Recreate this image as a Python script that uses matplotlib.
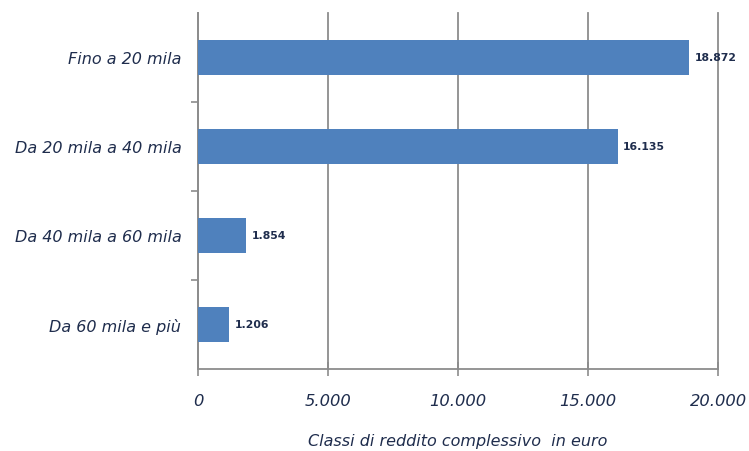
import matplotlib
matplotlib.use("Agg")
import matplotlib.pyplot as plt
from matplotlib.ticker import FixedLocator

categories = ["Fino a 20 mila", "Da 20 mila a 40 mila", "Da 40 mila a 60 mila", "Da 60 mila e più"]
values = [18872, 16135, 1854, 1206]
value_labels = ["18.872", "16.135", "1.854", "1.206"]
xticks = [0, 5000, 10000, 15000, 20000]
xtick_labels = ["0", "5.000", "10.000", "15.000", "20.000"]
xlabel = "Classi di reddito complessivo  in euro"

txt_color = "#1F2D4D"
grid_color = "#8C8C8C"
fam = "DejaVu Sans"

fig = plt.figure(figsize=(7.49, 4.52), dpi=100)
ax = fig.add_axes([198/749, 1-370/452, (718-198)/749, (370-14)/452])

n = len(categories)
ypos = list(range(n))[::-1]  # top category at highest y
ax.barh(ypos, values, height=0.4, color="#4F81BD", zorder=3)
for y, v, lab in zip(ypos, values, value_labels):
    ax.text(v + 220, y, lab, va="center", ha="left", fontsize=7.8, fontweight="bold",
            color=txt_color, family=fam)

ax.set_xlim(0, 20000)
ax.set_ylim(-0.5, n - 0.5)
ax.set_xticks(xticks)
ax.set_xticklabels(xtick_labels, fontsize=11.8, style="italic", color=txt_color, family=fam)
ax.set_yticks(ypos)
ax.set_yticklabels(categories, fontsize=11.5, style="italic", color=txt_color, family=fam)
ax.tick_params(axis="y", which="major", length=0, pad=12)
ax.yaxis.set_minor_locator(FixedLocator([0.5, 1.5, 2.5]))
ax.tick_params(axis="y", which="minor", length=5, width=1.2, color=grid_color, direction="out")
ax.tick_params(axis="x", which="major", length=10, width=1.2, color=grid_color, direction="inout", pad=12)

ax.grid(axis="x", color=grid_color, linewidth=1.3, zorder=0)
for gl in ax.get_xgridlines():
    gl.set_clip_on(False)
for s in ["top", "right"]:
    ax.spines[s].set_visible(False)
for s in ["left", "bottom"]:
    ax.spines[s].set_color(grid_color)
    ax.spines[s].set_linewidth(1.3)

ax.set_xlabel(xlabel, fontsize=11.5, style="italic", color=txt_color, family=fam, labelpad=18)

fig.savefig("out.png", dpi=100)
